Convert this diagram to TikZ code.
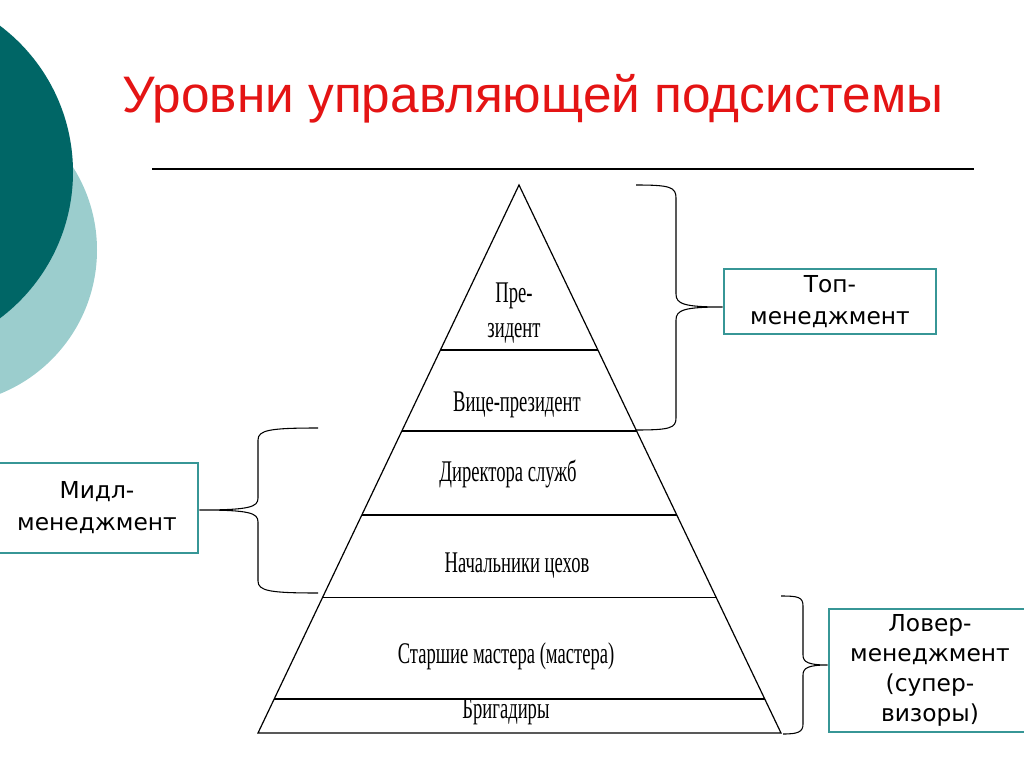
\documentclass[tikz,border=0pt]{standalone}
\usepackage{fontspec}
\usetikzlibrary{calc}
\setmainfont{Liberation Sans}
\newfontfamily\boxfont{DejaVu Sans}
\newfontfamily\pyrfont[FakeStretch=0.62]{Liberation Serif}
\definecolor{darkteal}{RGB}{0,102,102}
\definecolor{lightteal}{RGB}{155,205,205}
\definecolor{boxteal}{RGB}{55,150,150}
\definecolor{titlered}{RGB}{228,20,20}
\begin{document}
\begin{tikzpicture}[x=0.75pt,y=-0.75pt,
  lvl/.style={font=\pyrfont\fontsize{22.5}{26}\selectfont, inner sep=0pt, align=center},
  grpbox/.style={draw=boxteal, line width=2.2pt, rectangle, inner sep=0pt, align=center,
    font=\boxfont\fontsize{17.5}{24}\selectfont},
  pyr/.style={line width=0.9pt},
  brace/.style={line width=0.8pt}]
\useasboundingbox (0,0) rectangle (1024,767);
\begin{scope}
\clip (0,0) rectangle (1024,767);
\fill[lightteal] (-58,250) circle[radius=116.25pt];
\fill[darkteal] (-110,172) circle[radius=137.25pt];

% title
\node[text=titlered, font=\fontsize{38.5}{42}\selectfont, anchor=base] (title) at (533,113) {Уровни управляющей подсистемы};
\coordinate (rl) at (152,169);
\coordinate (rr) at (974,169);
\draw[line width=0.8pt] (rl) -- (rr);

% pyramid
\coordinate (A) at (519,185);
\coordinate (BL) at (258,733);
\coordinate (BR) at (781,733);
\draw[pyr] (A) -- (BL) -- (BR) -- cycle;
\foreach \t/\n in {0.301/1,0.449/2,0.602/3,0.752/4,0.938/5}{
  \draw[pyr] ($(A)!\t!(BL)$) -- ($(A)!\t!(BR)$);
}

\node[lvl] (pres) at (514,313) {Пре-\\зидент};
\node[lvl] (vp) at (517,405) {Вице-президент};
\node[lvl] (dir) at (508,474) {Директора служб};
\node[lvl] (nach) at (517,566) {Начальники цехов};
\node[lvl] (star) at (506,656) {Старшие мастера (мастера)};
\node[lvl] (brig) at (506,712) {Бригадиры};

% boxes
\node[grpbox, minimum width=212*0.75pt, minimum height=65*0.75pt] (top) at (830,301.5) {Топ-\\менеджмент};
\node[grpbox, minimum width=202*0.75pt, minimum height=90*0.75pt] (mid) at (97,508) {Мидл-\\менеджмент};
\node[grpbox, minimum width=202*0.75pt, minimum height=123*0.75pt,
  font=\boxfont\fontsize{17.5}{22.5}\selectfont] (low) at (930,670.5) {Ловер-\\менеджмент\\(супер-\\визоры)};

% braces
\coordinate (t1) at (636,185);
\coordinate (t2) at (636,430);
\draw[brace] (t1) .. controls (670,185) and (676,187) .. (676,198) -- (676,294)
  .. controls (676,304) and (684,307) .. (top.west |- 0,307)
  .. controls (684,307) and (676,310) .. (676,320) -- (676,418)
  .. controls (676,428) and (670,430) .. (t2);

\coordinate (m1) at (318,428);
\coordinate (m2) at (318,593);
\draw[brace] (m1) .. controls (270,428) and (258,430) .. (258,440) -- (258,498)
  .. controls (258,507) and (250,510) .. (mid.east |- 0,510)
  .. controls (250,510) and (258,513) .. (258,522) -- (258,581)
  .. controls (258,591) and (270,593) .. (m2);

\coordinate (l1) at (781,596);
\coordinate (l2) at (783,734);
\draw[brace] (l1) .. controls (798,596) and (803,597) .. (803,606) -- (803,655)
  .. controls (803,662) and (808,665) .. (low.west |- 0,665)
  .. controls (808,665) and (803,668) .. (803,675) -- (803,724)
  .. controls (803,732) and (798,734) .. (l2);
\end{scope}
\end{tikzpicture}
\end{document}
